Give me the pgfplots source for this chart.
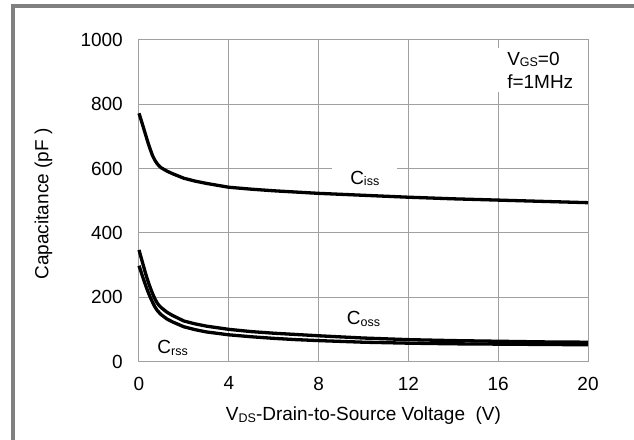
\documentclass[border=0pt]{standalone}
\usepackage{pgfplots}
\pgfplotsset{compat=1.18}
\usepackage{fontspec}
\setmainfont{Liberation Sans}
\definecolor{gridgray}{RGB}{160,160,160}
\definecolor{framegray}{RGB}{128,128,128}
\newcommand\sub[1]{\raisebox{-1.8bp}{\fontsize{12.5bp}{14bp}\selectfont #1}}
\newcommand\lbl{\fontsize{19bp}{23.3bp}\selectfont}

\pgfplotstableread{
x y
0 772
0.1 750
0.2 727
0.3 704
0.4 681
0.5 660
0.6 641
0.7 627
0.8 616
0.9 608
1.0 602
1.25 592
1.5 584
2 570
2.5 561
3 554
4 542
5 536
6 531
7 527
8 523
10 517
12 511
14 506
16 502
18 498
20 494
}\ciss

\pgfplotstableread{
x y
0 347
0.1 322
0.2 297
0.3 272
0.4 250
0.5 230
0.6 212
0.7 196
0.8 183
0.9 174
1.0 167
1.25 153
1.5 143
2 126
2.5 117
3 110
4 100
5 93
6 88
7 84
8 80
10 73
12 68
14 65
16 63
18 61
20 60
}\coss

\pgfplotstableread{
x y
0 298
0.1 277
0.2 256
0.3 236
0.4 217
0.5 200
0.6 185
0.7 171
0.8 160
0.9 152
1.0 145
1.25 132
1.5 123
2 108
2.5 99
3 92
4 83
5 77
6 72
7 68
8 65
10 60
12 57
14 55
16 54
18 53
20 52
}\crss

\begin{document}
\begin{tikzpicture}
\begin{axis}[name=ax, scale only axis, width=449bp, height=321.5bp,
  xmin=0, xmax=20, ymin=0, ymax=1000,
  xtick={0,4,...,20}, ytick={0,200,...,1000},
  grid=major, major grid style={gridgray, line width=1bp},
  axis line style={gridgray, line width=1bp},
  major tick length=0pt,
  /pgf/number format/assume math mode=true,
  /pgf/number format/1000 sep={},
  tick label style={font=\lbl},
  yticklabel style={inner sep=0pt, xshift=-16bp},
  xticklabel style={inner sep=0pt, yshift=-15.2bp},
  xlabel={V\sub{DS}-Drain-to-Source Voltage\ \ (V)},
  ylabel={Capacitance (pF )},
  every axis x label/.style={at={(axis description cs:0.5,-0.1695)}, anchor=center, font=\lbl},
  every axis y label/.style={at={(axis description cs:-0.2127,0.49)}, anchor=center, rotate=90, font=\lbl},
  clip=false,
]
\node[fill=white, inner xsep=18bp, inner ysep=4bp, anchor=base west, font=\lbl] at (axis cs:8.60,552) {C\sub{iss}};
\node[fill=white, inner xsep=12bp, inner ysep=4bp, anchor=north west, font=\lbl, align=left] at (axis cs:15.86,976) {V\sub{GS}=0\\f=1MHz};
\node[inner sep=0pt, anchor=base west, font=\lbl] at (axis cs:9.25,115.7) {C\sub{oss}};
\node[inner sep=0pt, anchor=base west, font=\lbl] at (axis cs:0.815,25.5) {C\sub{rss}};
\addplot[black, line width=3.3bp, line join=round] table[x=x,y=y] {\ciss};
\addplot[black, line width=3.3bp, line join=round] table[x=x,y=y] {\coss};
\addplot[black, line width=3.3bp, line join=round] table[x=x,y=y] {\crss};
\end{axis}
\draw[framegray, line width=4bp, shift={(ax.south west)}] (-126bp,-78.5bp) -- (-126bp,355.5bp) -- (495bp,355.5bp);
\pgfresetboundingbox
\path[shift={(ax.south west)}] (-139bp,-78.5bp) rectangle (495bp,361.5bp);
\end{tikzpicture}
\end{document}
